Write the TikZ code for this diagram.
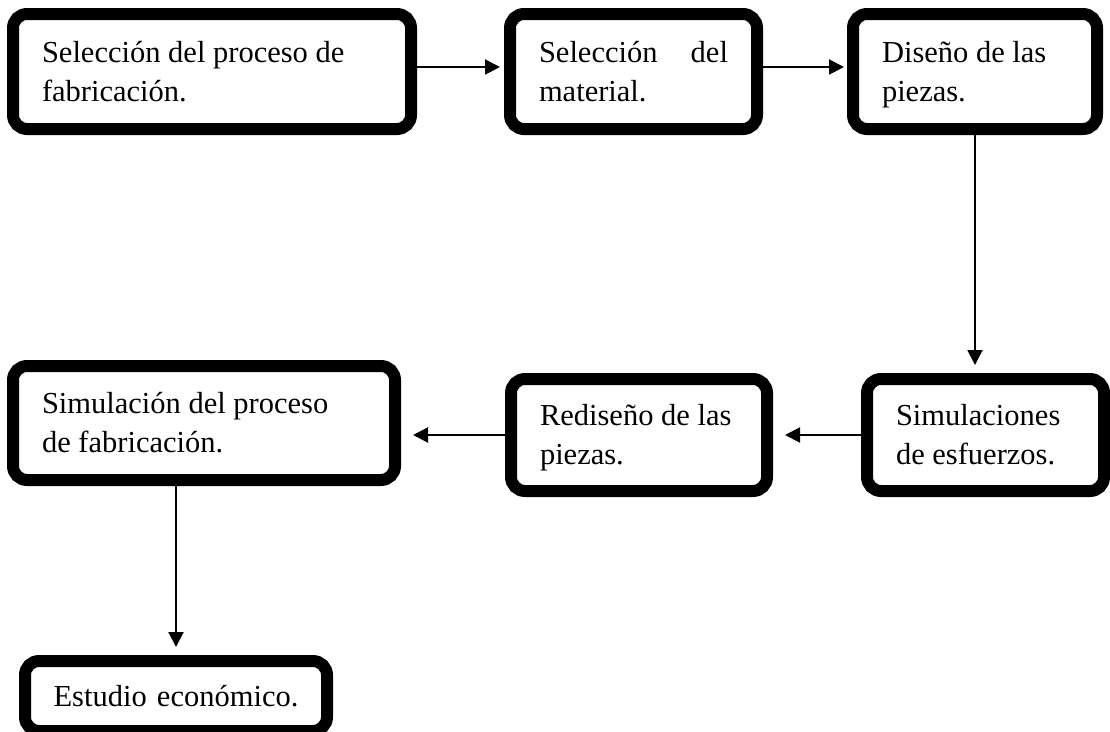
\documentclass[tikz,border=0pt]{standalone}
\usepackage{fontspec}
\setmainfont{Liberation Serif}
\usetikzlibrary{arrows.meta,calc}
\begin{document}
\begin{tikzpicture}[x=1pt,y=-1pt,
  flowbox/.style={draw=black, line width=12pt, rounded corners=14pt, fill=white,
    inner xsep=29pt, inner ysep=0pt, align=flush left, anchor=center,
    font=\fontsize{30.5}{39}\selectfont},
  arr/.style={line width=2pt, -{Triangle[length=15pt,width=15pt]}}]
\useasboundingbox (0,0) rectangle (1110,731);
\clip (0,0) rectangle (1110,731);

\node[flowbox, minimum width=398pt, minimum height=115pt, text width=340pt] (b1) at (212,71.5)
  {Selección del proceso de\\fabricación.};
\node[flowbox, minimum width=247pt, minimum height=115pt, text width=189pt] (b2) at (633.5,71.5)
  {Selección\hfill del\\material.};
\node[flowbox, minimum width=244pt, minimum height=115pt, text width=186pt] (b3) at (975,71.5)
  {Diseño de las\\\smash{p}iezas.};
\node[flowbox, minimum width=237pt, minimum height=112pt, text width=179pt] (b4) at (985.5,435)
  {Simulaciones\\de esfuerzos.};
\node[flowbox, minimum width=256pt, minimum height=112pt, text width=198pt] (b5) at (639,435)
  {Rediseño de las\\\smash{p}iezas.};
\node[flowbox, minimum width=382pt, minimum height=114pt, text width=324pt] (b6) at (204,423)
  {Simulación del proceso\\de fabricación.};
\node[flowbox, minimum width=302pt, minimum height=70pt, text width=270pt, inner xsep=16pt, align=center] (b7) at (176,696)
  {Estudio económico.};

\draw[arr, shorten >=4pt] ([yshift=4.5pt]b1.east) -- ([yshift=4.5pt]b2.west);
\draw[arr, shorten >=3pt] ([yshift=4.5pt]b2.east) -- ([yshift=4.5pt]b3.west);
\draw[arr, shorten >=8pt] (b3.south) -- (b3.south |- b4.north);
\draw[arr, shorten >=12pt] (b4.west) -- (b5.east);
\draw[arr, shorten >=12pt] (b5.west) -- (b5.west -| b6.east);
\draw[arr, shorten >=8pt] (b6.south -| b7.north) -- (b7.north);
\end{tikzpicture}
\end{document}
